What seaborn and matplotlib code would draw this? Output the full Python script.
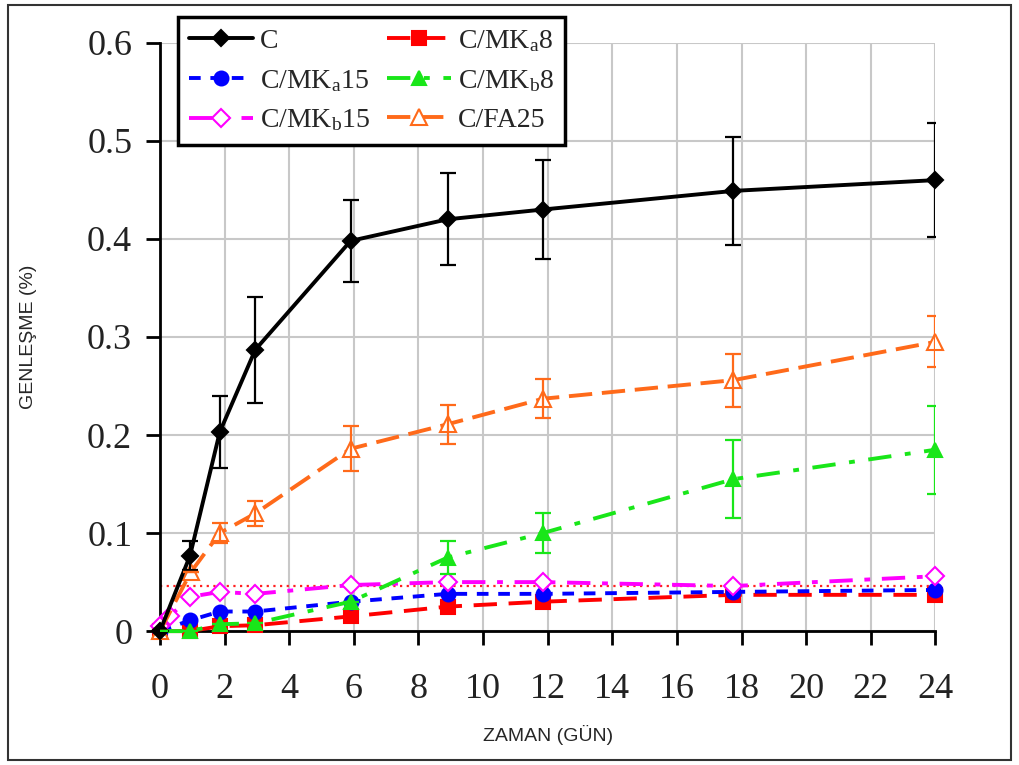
import matplotlib
matplotlib.use("Agg")
import matplotlib.pyplot as plt
import seaborn as sns
import pandas as pd
import numpy as np
from matplotlib.patches import Rectangle

# ---- data ----
days = [0, 0.93, 1.85, 2.95, 5.9, 8.9, 11.85, 17.75, 24]
c_vals = [0.0, 0.077, 0.203, 0.287, 0.398, 0.420, 0.430, 0.449, 0.460]
c_err = [0.0, 0.015, 0.037, 0.054, 0.042, 0.047, 0.050, 0.055, 0.058]
mka8_vals = [0.0, 0.0, 0.005, 0.006, 0.015, 0.025, 0.030, 0.037, 0.037]
mka15_vals = [0.0, 0.011, 0.020, 0.020, 0.030, 0.038, 0.038, 0.040, 0.042]
mkb8_vals = [0.0, 0.0, 0.007, 0.008, 0.030, 0.075, 0.100, 0.155, 0.185]
mkb8_err = [0.0, 0.0, 0.0, 0.0, 0.0, 0.017, 0.020, 0.040, 0.045]
mkb15_days = [0, 0.3, 0.93, 1.85, 2.95, 5.9, 8.9, 11.85, 17.75, 24]
mkb15_vals = [0.005, 0.015, 0.035, 0.040, 0.038, 0.047, 0.050, 0.050, 0.046, 0.056]
fa25_days = [0, 0.95, 1.85, 2.95, 5.9, 8.9, 11.85, 17.75, 24]
fa25_vals = [0.0, 0.060, 0.100, 0.120, 0.186, 0.211, 0.237, 0.256, 0.295]
fa25_err = [0.0, 0.0, 0.010, 0.013, 0.023, 0.020, 0.020, 0.027, 0.026]
limit_value = 0.046

x_ticks = list(range(0, 25, 2))
y_ticks = [0, 0.1, 0.2, 0.3, 0.4, 0.5, 0.6]
y_ticklabels = ["0", "0.1", "0.2", "0.3", "0.4", "0.5", "0.6"]

sns.set_theme(style="white")
plt.rcParams["font.family"] = ["Liberation Serif", "DejaVu Serif"]
plt.rcParams["mathtext.fontset"] = "custom"
plt.rcParams["mathtext.rm"] = "Liberation Serif"
plt.rcParams["mathtext.it"] = "Liberation Serif"

fig = plt.figure(figsize=(10.19, 7.65), dpi=100)
ax = fig.add_axes([0.157, 0.175, 0.761, 0.769])

# grid
ax.set_xticks(x_ticks)
ax.set_yticks(y_ticks)
ax.grid(True, color="#c8c8c8", linewidth=1.5)
ax.set_axisbelow(True)

# red dotted threshold line
ax.axhline(limit_value, color="#ff2020", linestyle=(0, (1, 2)), linewidth=1.6, zorder=1)

series = [
    dict(x=days, y=mka8_vals, color="#ff0000", marker="s", mfc="#ff0000", ls=(0, (6, 3)), label="C/MK$_{\\mathrm{a}}$8", ms=10),
    dict(x=days, y=mka15_vals, color="#0000ff", marker="o", mfc="#0000ff", ls=(0, (3, 2.5)), label="C/MK$_{\\mathrm{a}}$15", ms=10),
    dict(x=mkb15_days, y=mkb15_vals, color="#ff00ff", marker="D", mfc="white", ls=(0, (6, 3, 1.5, 3)), label="C/MK$_{\\mathrm{b}}$15", ms=9),
    dict(x=days, y=mkb8_vals, color="#19e619", marker="^", mfc="#19e619", ls=(0, (6, 3.5, 1.5, 3.5)), label="C/MK$_{\\mathrm{b}}$8", ms=10),
    dict(x=fa25_days, y=fa25_vals, color="#ff6a1a", marker="^", mfc="white", ls=(0, (6, 2.5)), label="C/FA25", ms=12),
    dict(x=days, y=c_vals, color="black", marker="D", mfc="black", ls="-", label="C", ms=8),
]

handles = {}
for s in series:
    df = pd.DataFrame({"x": s["x"], "y": s["y"]})
    before = len(ax.lines)
    sns.lineplot(data=df, x="x", y="y", ax=ax, color=s["color"], linewidth=2.8,
                 marker=s["marker"], markersize=s["ms"], markerfacecolor=s["mfc"],
                 markeredgecolor=s["color"], markeredgewidth=1.5, clip_on=False,
                 zorder=3, estimator=None, sort=False)
    line = ax.lines[before]
    line.set_linestyle(s["ls"])
    line.set_clip_on(False)
    handles[s["label"]] = line

# error bars
ax.errorbar(days, c_vals, yerr=c_err, fmt="none", ecolor="black", elinewidth=1.6, capsize=6, capthick=1.6, zorder=4)
ax.errorbar(fa25_days, fa25_vals, yerr=fa25_err, fmt="none", ecolor="#ff6a1a", elinewidth=1.6, capsize=6, capthick=1.6, zorder=4)
ax.errorbar(days, mkb8_vals, yerr=mkb8_err, fmt="none", ecolor="#19e619", elinewidth=1.6, capsize=6, capthick=1.6, zorder=4)

ax.set_xlim(0, 24)
ax.set_ylim(0, 0.6)
ax.set_yticklabels(y_ticklabels)
for sp in ["top", "right"]:
    ax.spines[sp].set_visible(False)
for sp in ["left", "bottom"]:
    ax.spines[sp].set_color("black")
    ax.spines[sp].set_linewidth(2)
ax.tick_params(axis="both", which="both", direction="out", length=10, width=2,
               colors="black", labelsize=26, labelcolor="#222222",
               left=True, bottom=True)
ax.tick_params(axis="x", pad=20)
ax.tick_params(axis="y", pad=10)

ax.set_xlabel("ZAMAN (GÜN)", family=["Liberation Sans", "DejaVu Sans"], fontsize=14, labelpad=14)
ax.set_ylabel("GENLEŞME (%)", family=["Liberation Sans", "DejaVu Sans"], fontsize=14, labelpad=36)

order = ["C", "C/MK$_{\\mathrm{a}}$15", "C/MK$_{\\mathrm{b}}$15", "C/MK$_{\\mathrm{a}}$8", "C/MK$_{\\mathrm{b}}$8", "C/FA25"]
leg = fig.legend([handles[k] for k in order], order, loc="upper left",
                 bbox_to_anchor=(178 / 1019, 1 - 17 / 765), ncol=2, fontsize=20,
                 frameon=True, fancybox=False, edgecolor="black", framealpha=1,
                 handlelength=2.3, handletextpad=0.25, columnspacing=0.6,
                 labelspacing=0.5, borderpad=0.4, borderaxespad=0)
leg.get_frame().set_linewidth(2.5)

# outer frame
fig.patches.append(Rectangle((8 / 1019, 5 / 765), 1003 / 1019, 755 / 765, transform=fig.transFigure,
                             fill=False, edgecolor="#333333", linewidth=1.5))

fig.savefig("out.png", dpi=100)
